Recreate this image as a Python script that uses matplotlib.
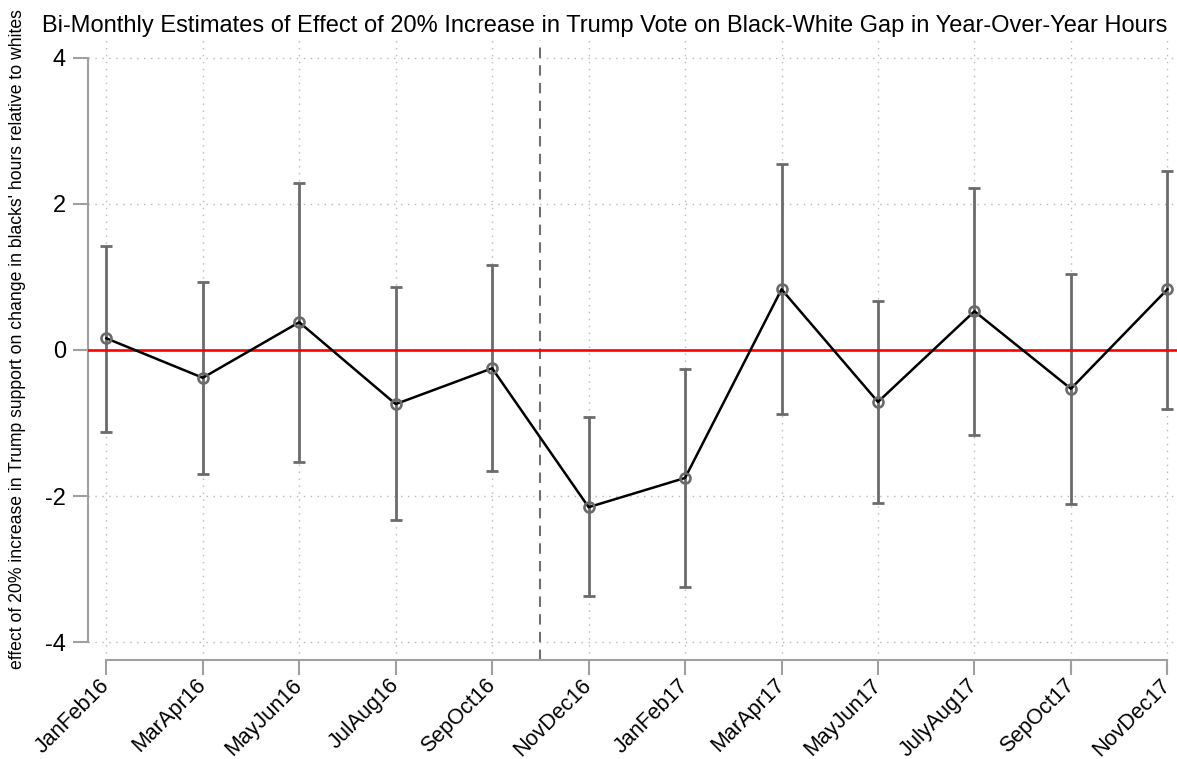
import numpy as np
import matplotlib
matplotlib.use("Agg")
import matplotlib.pyplot as plt

plt.rcParams['font.family'] = ['Liberation Sans', 'DejaVu Sans']

# bi-monthly periods and estimates with 95% CI bounds
periods = ["JanFeb16", "MarApr16", "MayJun16", "JulAug16", "SepOct16", "NovDec16",
           "JanFeb17", "MarApr17", "MayJun17", "JulyAug17", "SepOct17", "NovDec17"]
estimate = [0.16, -0.38, 0.38, -0.74, -0.25, -2.15, -1.75, 0.83, -0.71, 0.53, -0.53, 0.83]
ci_upper = [1.42, 0.93, 2.28, 0.86, 1.16, -0.92, -0.26, 2.54, 0.67, 2.22, 1.04, 2.45]
ci_lower = [-1.12, -1.69, -1.53, -2.33, -1.65, -3.37, -3.24, -0.87, -2.09, -1.16, -2.10, -0.81]
election_pos = 4.5
yticks = [-4, -2, 0, 2, 4]

x = np.arange(len(periods))
est = np.array(estimate)
hi = np.array(ci_upper)
lo = np.array(ci_lower)

fig = plt.figure(figsize=(11.77, 7.59), dpi=100)
ax = fig.add_axes([88 / 1177, 99 / 759, 1 - 88 / 1177, 620 / 759])

gray = "#6b6b6b"
ax.errorbar(x, est, yerr=[est - lo, hi - est], fmt="none", ecolor=gray,
            elinewidth=2.0, capsize=4.4, capthick=2.0, zorder=2)
ax.axhline(0, color="red", lw=1.9, zorder=3)
ax.axvline(election_pos, color="#707070", lw=1.5, ls=(0, (5, 3.5)), zorder=1)
ax.plot(x, est, color="black", lw=1.8, zorder=4)
ax.plot(x, est, "o", ms=7.2, mfc="none", mec=gray, mew=1.9, zorder=5)

ax.set_xlim(-0.19, 11.10)
ax.set_ylim(-4.24, 4.24)
ax.set_yticks(yticks)
ax.set_yticklabels([str(t) for t in yticks], fontsize=17)
ax.set_xticks(x)
ax.set_xticklabels(periods, rotation=45, ha="right", va="center",
                   rotation_mode="anchor", fontsize=15.5)

ax.grid(True, ls=(0, (1, 4)), color="#b8b8b8", lw=1.0)
ax.set_axisbelow(True)

for s in ["top", "right"]:
    ax.spines[s].set_visible(False)
for s in ["left", "bottom"]:
    ax.spines[s].set_color("#a0a0a0")
    ax.spines[s].set_linewidth(1.5)
ax.spines["left"].set_bounds(-4, 4)
ax.spines["bottom"].set_bounds(0, 11)
ax.tick_params(axis="both", length=11, width=1.5, color="#a0a0a0")
ax.tick_params(axis="y", pad=5)
ax.tick_params(axis="x", pad=5)

ax.set_ylabel("effect of 20% increase in Trump support on change in blacks' hours relative to whites",
              fontsize=12.7)
ax.yaxis.set_label_coords(-62 / 1089, 0.518)

fig.text(605 / 1177, 1 - 26 / 759,
         "Bi-Monthly Estimates of Effect of 20% Increase in Trump Vote on Black-White Gap in Year-Over-Year Hours",
         ha="center", va="center", fontsize=17)

fig.savefig("out.png", dpi=100)
